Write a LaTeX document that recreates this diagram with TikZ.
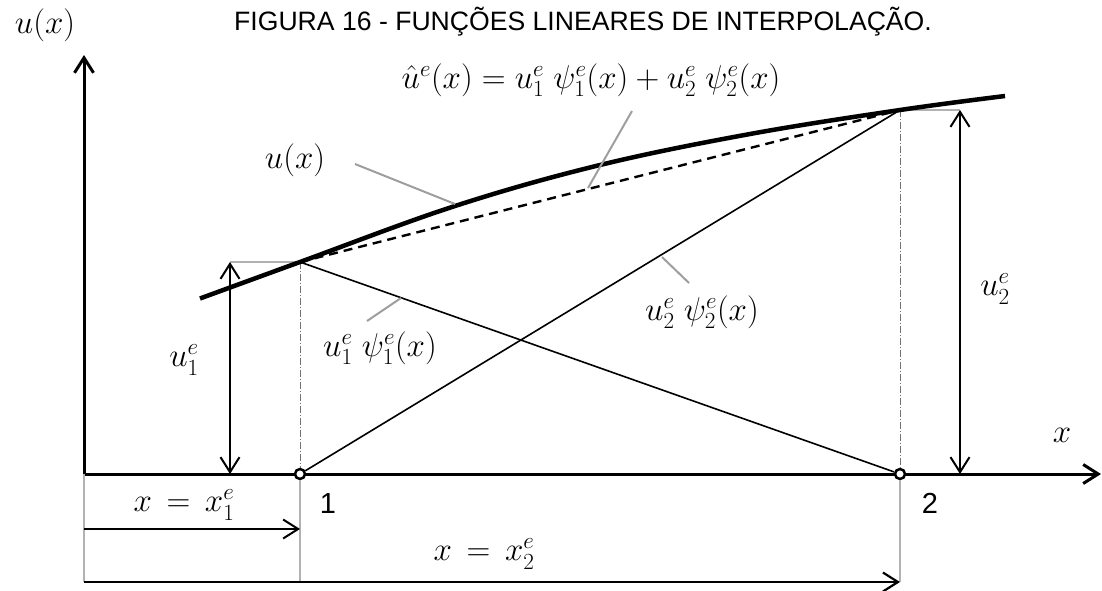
\RequirePackage{fix-cm}
\documentclass[tikz,border=0pt]{standalone}
\usepackage{fontspec}
\newfontfamily\arialf{Liberation Sans}
\usetikzlibrary{arrows.meta}
\tikzset{
  arr/.style={-{Straight Barb[length=15pt,width=19pt]}},
  dbl/.style={{Straight Barb[length=15pt,width=19pt]}-{Straight Barb[length=15pt,width=19pt]}},
  axisline/.style={line width=3pt},
  thinline/.style={line width=1.6pt},
  leader/.style={line width=2pt, color=black!38},
  grayline/.style={line width=2pt, color=black!30},
  dashdot/.style={line width=1pt, color=black!55, dash pattern=on 7pt off 2pt on 1pt off 2pt},
  mlabel/.style={inner sep=0pt, font=\fontsize{33}{36}\selectfont},
  slabel/.style={inner sep=0pt, font=\arialf\fontsize{29}{32}\selectfont},
  nodept/.style={draw, circle, fill=white, line width=2.5pt, inner sep=0pt, minimum size=10pt}
}
\begin{document}
\begin{tikzpicture}[x=1pt,y=-1pt]
\useasboundingbox (0,0) rectangle (1102,590);
% key coordinates
\coordinate (O) at (84,474);
\coordinate (ytop) at (84,55);
\coordinate (xend) at (1101,474);
\coordinate (p1) at (300,262);
\coordinate (p2) at (900,110);
\coordinate (b0) at (84,582);
\coordinate (b1) at (300,582);
\coordinate (b2) at (900,582);
\coordinate (a1s) at (84,529);
\coordinate (a1e) at (300,529);
\coordinate (u1t) at (230,262);
\coordinate (u1b) at (230,474);
\coordinate (u2t) at (960,110);
\coordinate (u2b) at (960,474);
% axes
\draw[axisline, arr] (O) -- (ytop);
\draw[axisline, arr] (O) -- (xend);
% gray reference lines
\draw[grayline] (O) -- (b0);
\draw[grayline] (u1t) -- (p1);
\draw[grayline] (p2) -- (u2t);
% element nodes
\node[nodept] (n1) at (300,474) {};
\node[nodept] (n2) at (900,474) {};
\draw[grayline] (n1) -- (b1);
\draw[grayline] (n2) -- (b2);
% dash-dot verticals
\draw[dashdot] (p1) -- (n1);
\draw[dashdot] (p2) -- (n2);
% shape functions
\draw[thinline] (p1) -- (n2);
\draw[thinline] (n1) -- (p2);
% interpolation (dashed)
\draw[line width=2.4pt, dash pattern=on 9pt off 6pt] (p1) -- (p2);
% exact curve
\draw[line width=4.5pt] plot[smooth, tension=0.6] coordinates {(200,298.5) (300,262) (455,206) (600,165) (750,134) (900,110) (1005,96)};
% dimension arrows
\draw[line width=2pt, dbl] (u1t) -- (u1b);
\draw[line width=2pt, dbl] (u2t) -- (u2b);
\draw[line width=2pt, arr] (a1s) -- (a1e);
\draw[line width=2.2pt, arr] (b0) -- (b2);
% labels
\node[mlabel] (ylab) at (45,25) {$u(x)$};
\node[inner sep=0pt, font=\arialf\fontsize{26.6}{30}\selectfont] (title) at (583,22) {FIGURA 16 - FUNÇÕES LINEARES DE INTERPOLAÇÃO.};
\node[mlabel] (uhat) at (591,80) {$\hat{u}^e(x) = u_1^e\;\psi_1^e(x) + u_2^e\;\psi_2^e(x)$};
\node[mlabel] (ulab) at (295,160) {$u(x)$};
\node[mlabel] (psi1) at (380,348) {$u_1^e\;\psi_1^e(x)$};
\node[mlabel] (psi2) at (702,312) {$u_2^e\;\psi_2^e(x)$};
\node[mlabel] (u1lab) at (184,360) {$u_1^e$};
\node[mlabel] (u2lab) at (995,289) {$u_2^e$};
\node[mlabel] (xlab) at (1062,435) {$x$};
\node[slabel] (one) at (328,504) {1};
\node[slabel] (two) at (930,503) {2};
\node[mlabel] (x1lab) at (184,505) {$x\,=\,x_1^e$};
\node[mlabel] (x2lab) at (484,554) {$x\,=\,x_2^e$};
% leaders
\coordinate (L1a) at (355,164); \coordinate (L1b) at (455,204);
\coordinate (L2a) at (632,111); \coordinate (L2b) at (588,188);
\coordinate (L3a) at (662,257); \coordinate (L3b) at (689,283);
\coordinate (L4a) at (401,298); \coordinate (L4b) at (367,321);
\draw[leader] (L1a) -- (L1b);
\draw[leader] (L2a) -- (L2b);
\draw[leader] (L3a) -- (L3b);
\draw[leader] (L4a) -- (L4b);
\end{tikzpicture}
\end{document}
